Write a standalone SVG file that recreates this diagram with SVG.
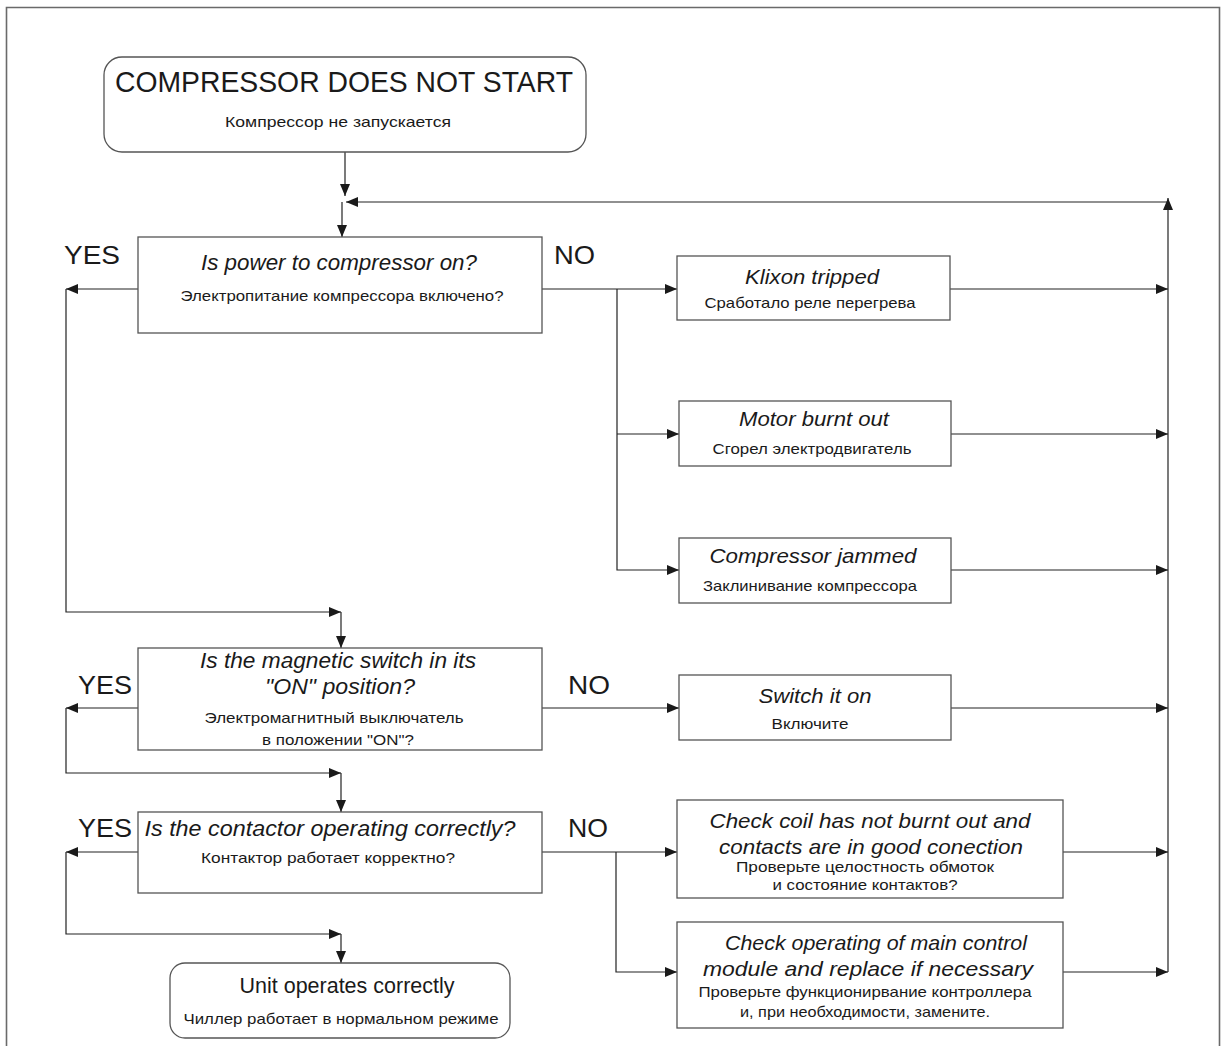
<svg xmlns="http://www.w3.org/2000/svg" width="1224" height="1046" viewBox="0 0 1224 1046">
<defs>
<style>
.frame{fill:none;stroke:#6a6a6a;stroke-width:1.6}
.box{fill:#fff;stroke:#555;stroke-width:1.3}
.ln{fill:none;stroke:#222;stroke-width:1.2}
text{font-family:"Liberation Sans",Arial,sans-serif;fill:#1a1a1a;text-anchor:middle}
.big{font-size:30px}
.q{font-size:22px;font-style:italic}
.r{font-size:15px}
.lbl{font-size:26px;text-anchor:start}
.t{font-size:21px;font-style:italic}
.u{font-size:22px}
</style>
<marker id="ah" viewBox="0 0 12 10" refX="12" refY="5" markerWidth="12" markerHeight="10" markerUnits="userSpaceOnUse" orient="auto">
<path d="M0,0 L12,5 L0,10 Z" fill="#1a1a1a"/>
</marker>
</defs>
<rect width="1224" height="1046" fill="#fff"/>
<path class="frame" d="M6.5,1046 V7.5 H1219.5 V1046"/>

<g id="connectors">
<path class="ln" d="M345,152 V196" marker-end="url(#ah)"/>
<path class="ln" d="M1168,972 V198" marker-end="url(#ah)"/>
<path class="ln" d="M1168,202 H346" marker-end="url(#ah)"/>
<path class="ln" d="M342,202 V237" marker-end="url(#ah)"/>
<path class="ln" d="M138,289 H66" marker-end="url(#ah)"/>
<path class="ln" d="M66,289 V612 H341" marker-end="url(#ah)"/>
<path class="ln" d="M341,612 V648" marker-end="url(#ah)"/>
<path class="ln" d="M542,289 H677" marker-end="url(#ah)"/>
<path class="ln" d="M617,289 V570 H679" marker-end="url(#ah)"/>
<path class="ln" d="M617,434 H679" marker-end="url(#ah)"/>
<path class="ln" d="M950,289 H1168" marker-end="url(#ah)"/>
<path class="ln" d="M951,434 H1168" marker-end="url(#ah)"/>
<path class="ln" d="M951,570 H1168" marker-end="url(#ah)"/>
<path class="ln" d="M951,708 H1168" marker-end="url(#ah)"/>
<path class="ln" d="M1063,852 H1168" marker-end="url(#ah)"/>
<path class="ln" d="M1063,972 H1168" marker-end="url(#ah)"/>
<path class="ln" d="M138,708 H66" marker-end="url(#ah)"/>
<path class="ln" d="M66,708 V773 H341" marker-end="url(#ah)"/>
<path class="ln" d="M341,773 V812" marker-end="url(#ah)"/>
<path class="ln" d="M542,708 H679" marker-end="url(#ah)"/>
<path class="ln" d="M138,852 H66" marker-end="url(#ah)"/>
<path class="ln" d="M66,852 V934 H341" marker-end="url(#ah)"/>
<path class="ln" d="M341,934 V963" marker-end="url(#ah)"/>
<path class="ln" d="M542,852 H677" marker-end="url(#ah)"/>
<path class="ln" d="M616,852 V972 H677" marker-end="url(#ah)"/>
</g>

<g id="start">
<rect class="box" x="104" y="57" width="482" height="95" rx="18"/>
<text class="big" x="344" y="92" textLength="458" lengthAdjust="spacingAndGlyphs">COMPRESSOR DOES NOT START</text>
<text class="r" x="338" y="127" textLength="226" lengthAdjust="spacingAndGlyphs">Компрессор не запускается</text>
</g>

<g id="q1">
<rect class="box" x="138" y="237" width="404" height="96"/>
<text class="q" x="339" y="270" textLength="276" lengthAdjust="spacingAndGlyphs">Is power to compressor on?</text>
<text class="r" x="342" y="301" textLength="323" lengthAdjust="spacingAndGlyphs">Электропитание компрессора включено?</text>
</g>
<text class="lbl" x="64" y="264" textLength="56" lengthAdjust="spacingAndGlyphs">YES</text>
<text class="lbl" x="554" y="264" textLength="41" lengthAdjust="spacingAndGlyphs">NO</text>

<g id="klixon">
<rect class="box" x="677" y="256" width="273" height="64"/>
<text class="t" x="812" y="284" textLength="134" lengthAdjust="spacingAndGlyphs">Klixon tripped</text>
<text class="r" x="810" y="308" textLength="211" lengthAdjust="spacingAndGlyphs">Сработало реле перегрева</text>
</g>

<g id="motor">
<rect class="box" x="679" y="401" width="272" height="65"/>
<text class="t" x="814" y="426" textLength="150" lengthAdjust="spacingAndGlyphs">Motor burnt out</text>
<text class="r" x="812" y="454" textLength="199" lengthAdjust="spacingAndGlyphs">Сгорел электродвигатель</text>
</g>

<g id="jammed">
<rect class="box" x="679" y="538" width="272" height="65"/>
<text class="t" x="813" y="563" textLength="207" lengthAdjust="spacingAndGlyphs">Compressor jammed</text>
<text class="r" x="810" y="591" textLength="214" lengthAdjust="spacingAndGlyphs">Заклинивание компрессора</text>
</g>

<g id="q2">
<rect class="box" x="138" y="648" width="404" height="102"/>
<text class="q" x="338" y="668" textLength="276" lengthAdjust="spacingAndGlyphs">Is the magnetic switch in its</text>
<text class="q" x="340" y="694" textLength="150" lengthAdjust="spacingAndGlyphs">"ON" position?</text>
<text class="r" x="334" y="723" textLength="259" lengthAdjust="spacingAndGlyphs">Электромагнитный выключатель</text>
<text class="r" x="338" y="745" textLength="152" lengthAdjust="spacingAndGlyphs">в положении "ON"?</text>
</g>
<text class="lbl" x="78" y="694" textLength="54" lengthAdjust="spacingAndGlyphs">YES</text>
<text class="lbl" x="568" y="694" textLength="42" lengthAdjust="spacingAndGlyphs">NO</text>

<g id="switchon">
<rect class="box" x="679" y="675" width="272" height="65"/>
<text class="t" x="815" y="703" textLength="113" lengthAdjust="spacingAndGlyphs">Switch it on</text>
<text class="r" x="810" y="729" textLength="77" lengthAdjust="spacingAndGlyphs">Включите</text>
</g>

<g id="q3">
<rect class="box" x="138" y="812" width="404" height="81"/>
<text class="q" x="330" y="836" textLength="371" lengthAdjust="spacingAndGlyphs">Is the contactor operating correctly?</text>
<text class="r" x="328" y="863" textLength="254" lengthAdjust="spacingAndGlyphs">Контактор работает корректно?</text>
</g>
<text class="lbl" x="78" y="837" textLength="54" lengthAdjust="spacingAndGlyphs">YES</text>
<text class="lbl" x="568" y="837" textLength="40" lengthAdjust="spacingAndGlyphs">NO</text>

<g id="coil">
<rect class="box" x="677" y="800" width="386" height="98"/>
<text class="t" x="870" y="828" textLength="321" lengthAdjust="spacingAndGlyphs">Check coil has not burnt out and</text>
<text class="t" x="871" y="854" textLength="304" lengthAdjust="spacingAndGlyphs">contacts are in good conection</text>
<text class="r" x="865" y="872" textLength="258" lengthAdjust="spacingAndGlyphs">Проверьте целостность обмоток</text>
<text class="r" x="865" y="890" textLength="185" lengthAdjust="spacingAndGlyphs">и состояние контактов?</text>
</g>

<g id="module">
<rect class="box" x="677" y="922" width="386" height="106"/>
<text class="t" x="876" y="950" textLength="302" lengthAdjust="spacingAndGlyphs">Check operating of main control</text>
<text class="t" x="868" y="976" textLength="330" lengthAdjust="spacingAndGlyphs">module and replace if necessary</text>
<text class="r" x="865" y="997" textLength="333" lengthAdjust="spacingAndGlyphs">Проверьте функционирвание контроллера</text>
<text class="r" x="865" y="1017" textLength="250" lengthAdjust="spacingAndGlyphs">и, при необходимости, замените.</text>
</g>

<g id="unit">
<rect class="box" x="170" y="963" width="340" height="75" rx="15"/>
<text class="u" x="347" y="993" textLength="215" lengthAdjust="spacingAndGlyphs">Unit operates correctly</text>
<text class="r" x="341" y="1024" textLength="315" lengthAdjust="spacingAndGlyphs">Чиллер работает в нормальном режиме</text>
</g>
</svg>
